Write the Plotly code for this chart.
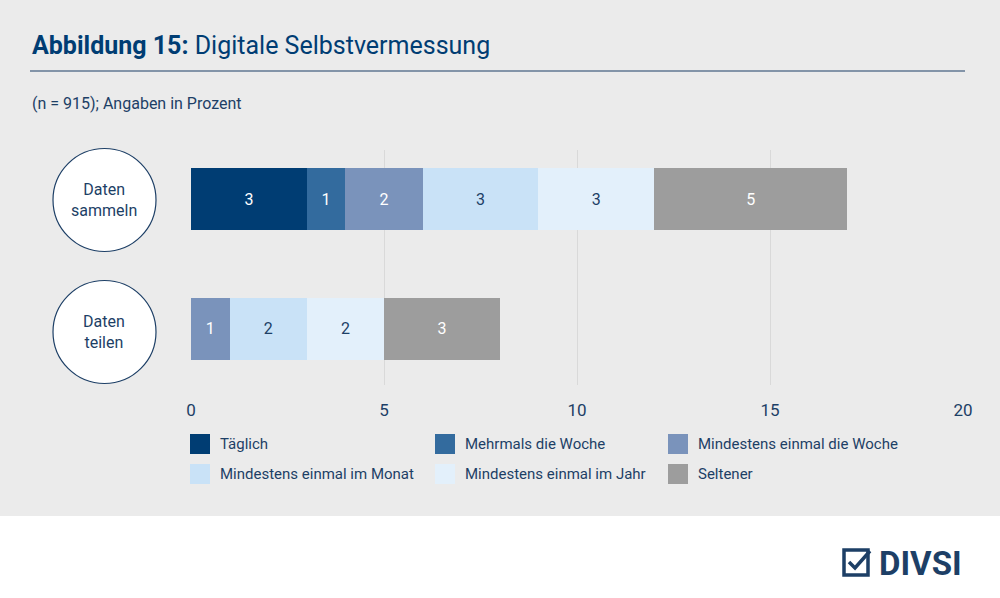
import plotly.graph_objects as go

# data
categories = ["Daten<br>sammeln", "Daten<br>teilen"]
series_names = ["Täglich", "Mehrmals die Woche", "Mindestens einmal die Woche",
                "Mindestens einmal im Monat", "Mindestens einmal im Jahr", "Seltener"]
sammeln = [3, 1, 2, 3, 3, 5]
teilen = [0, 0, 1, 2, 2, 3]
colors = ["#003d73", "#336b9e", "#7a93bb", "#c9e2f7", "#e3f0fb", "#9d9d9d"]
text_colors = ["white", "white", "white", "#1d3f66", "#1d3f66", "white"]

W, H = 1000, 598
def px(x): return x / W
def py(y): return 1 - y / H

fig = go.Figure()
for i, name in enumerate(series_names):
    vals = [sammeln[i], teilen[i]]
    fig.add_trace(go.Bar(
        x=vals, y=[1, 0], orientation="h", name=name, width=0.477,
        marker=dict(color=colors[i], line=dict(width=0)),
        text=[str(v) if v else "" for v in vals], textposition="inside",
        insidetextanchor="middle",
        textfont=dict(color=text_colors[i], size=16, family="Roboto"),
        showlegend=False))

shapes = [
    dict(type="rect", xref="paper", yref="paper", x0=-0.05, x1=1.05, y0=-0.05, y1=py(516),
         fillcolor="white", line_width=0, layer="below"),
    dict(type="line", xref="paper", yref="paper", x0=px(30), x1=px(965),
         y0=py(71), y1=py(71), line=dict(color="#1d3f66", width=1.2)),
]
annotations = [
    dict(xref="paper", yref="paper", x=px(30), y=py(46), xanchor="left", yanchor="middle",
         text="<b>Abbildung 15:</b> Digitale Selbstvermessung", showarrow=False,
         font=dict(size=25, color="#003d73", family="Roboto")),
    dict(xref="paper", yref="paper", x=px(30), y=py(103), xanchor="left", yanchor="middle",
         text="(n = 915); Angaben in Prozent", showarrow=False,
         font=dict(size=16, color="#1d3f66", family="Roboto")),
]
# category circles
for cy, label in zip([200, 332], categories):
    shapes.append(dict(type="circle", xref="paper", yref="paper",
                       x0=px(53), x1=px(156), y0=py(cy - 51.5), y1=py(cy + 51.5),
                       fillcolor="white", line=dict(color="#1d3f66", width=1.2)))
    annotations.append(dict(xref="paper", yref="paper", x=px(104), y=py(cy),
                            xanchor="center", yanchor="middle", align="center",
                            text=label, showarrow=False,
                            font=dict(size=16, color="#1d3f66", family="Roboto")))
# legend
legend_pos = [(190, 444), (435, 444), (668, 444), (190, 474), (435, 474), (668, 474)]
for (lx, ly), name, c in zip(legend_pos, series_names, colors):
    shapes.append(dict(type="rect", xref="paper", yref="paper", x0=px(lx), x1=px(lx + 20),
                       y0=py(ly + 10), y1=py(ly - 10), fillcolor=c, line_width=0))
    annotations.append(dict(xref="paper", yref="paper", x=px(lx + 28), y=py(ly),
                            xanchor="left", yanchor="middle", text=name, showarrow=False,
                            font=dict(size=15, color="#1d3f66", family="Roboto")))
# logo
shapes.append(dict(type="rect", xref="paper", yref="paper", x0=px(844), x1=px(868),
                   y0=py(575), y1=py(550), line=dict(color="#1d3f66", width=3.5)))
shapes.append(dict(type="path", xref="paper", yref="paper",
                   path=f"M {px(849)} {py(562)} L {px(855)} {py(568)} L {px(870)} {py(551)}",
                   line=dict(color="#1d3f66", width=3.5)))
annotations.append(dict(xref="paper", yref="paper", x=px(877), y=py(563), xanchor="left",
                        yanchor="middle", text="<b>DIVSI</b>", showarrow=False,
                        font=dict(size=33, color="#1d3f66", family="Roboto")))

fig.update_layout(
    width=W, height=H, margin=dict(l=0, r=0, t=0, b=0, pad=0),
    paper_bgcolor="#ebebeb", plot_bgcolor="rgba(0,0,0,0)", barmode="stack",
    shapes=shapes, annotations=annotations,
    xaxis=dict(domain=[px(191), px(963)], range=[0, 20], tickvals=[0, 5, 10, 15, 20],
               showgrid=True, gridcolor="#d9d9d9", zeroline=False, automargin=False,
               ticks="outside", ticklen=10, tickcolor="rgba(0,0,0,0)",
               tickfont=dict(size=17, color="#1d3f66", family="Roboto")),
    yaxis=dict(domain=[py(385), py(150)], range=[-0.431, 1.377], showticklabels=False,
               showgrid=False, zeroline=False, automargin=False),
)
fig.write_html("out.html", config={"displayModeBar": False},
               post_script="document.body.style.margin='0';document.body.style.overflow='hidden';")
